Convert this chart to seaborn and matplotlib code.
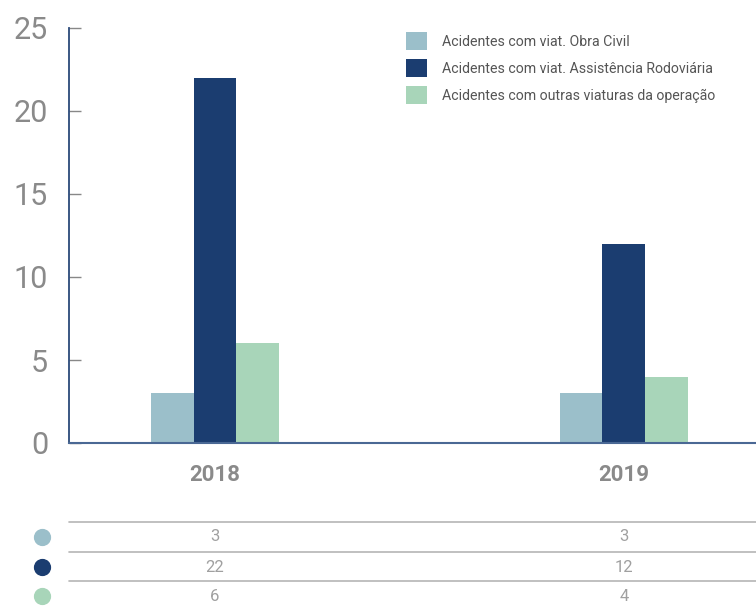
import pandas as pd
import seaborn as sns
import matplotlib.pyplot as plt
import matplotlib.transforms as mtransforms

years = ["2018", "2019"]
series = [
    "Acidentes com viat. Obra Civil",
    "Acidentes com viat. Assistência Rodoviária",
    "Acidentes com outras viaturas da operação",
]
obra_civil = [3, 3]
assistencia = [22, 12]
outras = [6, 4]
colors = ["#9bbfca", "#1b3d70", "#a8d5b9"]

df = pd.DataFrame({
    "ano": years * 3,
    "serie": [s for s in series for _ in years],
    "valor": obra_civil + assistencia + outras,
})

sns.set_style("white")
plt.rcParams["font.family"] = ["Roboto", "DejaVu Sans"]

fig = plt.figure(figsize=(7.56, 6.08), dpi=100)
ax = fig.add_axes([69 / 756, 1 - 443 / 608, 687 / 756, 415 / 608])

sns.barplot(data=df, x="ano", y="valor", hue="serie", hue_order=series,
            palette=colors, width=0.315, saturation=1, linewidth=0, ax=ax)

ax.set_ylim(0, 25)
ax.set_xlim(-0.357, 1.323)
ax.set_yticks([0, 5, 10, 15, 20, 25])
ax.set_xlabel("")
ax.set_ylabel("")

for side in ["top", "right"]:
    ax.spines[side].set_visible(False)
ax.spines["left"].set_color("#2b4a7a")
ax.spines["left"].set_linewidth(1.3)
ax.spines["bottom"].set_color("#4a6894")
ax.spines["bottom"].set_linewidth(1.5)

ax.tick_params(axis="y", left=True, direction="in", length=8.5, width=1,
               color="#888888", pad=15, labelsize=22, labelcolor="#8a8a8a")
ax.tick_params(axis="x", bottom=False, length=0, pad=15, labelsize=16,
               labelcolor="#8a8a8a")
for lbl in ax.get_xticklabels():
    lbl.set_fontweight("bold")

handles, labels = ax.get_legend_handles_labels()
ax.legend(handles, labels, loc="upper left", bbox_to_anchor=(0.482, 1.003),
          frameon=False, fontsize=10.2, labelcolor="#555555",
          handlelength=1.5, handleheight=1.5, handletextpad=1.05,
          labelspacing=0.68, borderaxespad=0)

# data table under the chart
trans = mtransforms.blended_transform_factory(ax.transData, ax.transAxes)
line_y = [-0.190, -0.263, -0.333]
row_y = [-0.2265, -0.299, -0.369]
rows = [obra_civil, assistencia, outras]
for ly in line_y:
    ax.plot([0, 1], [ly, ly], transform=ax.transAxes, color="#b5b5b5",
            lw=1.2, clip_on=False)
for ry, vals, c in zip(row_y, rows, colors):
    ax.scatter([-0.0393], [ry], s=130, color=c, transform=ax.transAxes,
               clip_on=False)
    for xi, v in enumerate(vals):
        ax.text(xi, ry, str(v), transform=trans, ha="center", va="center",
                fontsize=12, color="#a0a0a0")

fig.savefig("out.png", dpi=100)
